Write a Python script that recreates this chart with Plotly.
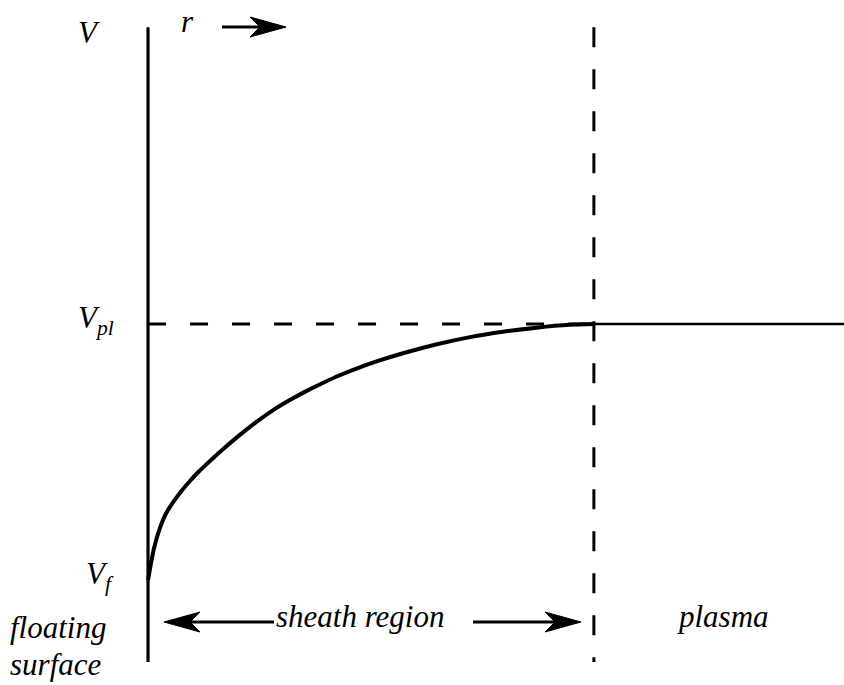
import plotly.graph_objects as go

# ---------------- data (normalised units: r in sheath widths, V from V_f=0 to V_pl=1)
r_sheath = [0.0, 0.0135, 0.027, 0.040, 0.056, 0.075, 0.094, 0.113, 0.132, 0.150,
            0.168, 0.206, 0.244, 0.280, 0.318, 0.357, 0.392, 0.430, 0.469, 0.516,
            0.572, 0.648, 0.722, 0.796, 0.872, 0.946, 1.0]
V_sheath = [0.0, 0.125, 0.205, 0.259, 0.303, 0.348, 0.387, 0.422, 0.454, 0.483,
            0.511, 0.567, 0.619, 0.663, 0.703, 0.740, 0.770, 0.800, 0.827, 0.856,
            0.886, 0.921, 0.949, 0.970, 0.986, 0.997, 1.0]
r_plasma = [1.0, 1.561]
V_plasma = [1.0, 1.0]
tick_vals = [0.0, 1.0]
tick_text = ["V<sub>f</sub>", "V<sub>pl</sub>"]
sheath_edge = 1.0

# ---------------- layout constants
W, H = 844, 685
X_RANGE = [-0.332, 1.561]
Y_RANGE = [-0.41, 2.266]
AXIS_TOP, AXIS_BOTTOM = 2.160, -0.320
FONT = "Liberation Serif"
FS = 31
BLACK = "#000000"


def px(x, y):
    return x / W, 1 - y / H


fig = go.Figure()

# surface (vertical axis)
fig.add_trace(go.Scatter(x=[0, 0], y=[AXIS_BOTTOM, AXIS_TOP], mode="lines",
                         line=dict(color=BLACK, width=3.2), hoverinfo="skip"))
# sheath edge (dashed vertical)
fig.add_trace(go.Scatter(x=[sheath_edge, sheath_edge], y=[AXIS_TOP, AXIS_BOTTOM],
                         mode="lines",
                         line=dict(color=BLACK, width=3, dash="20px,22px"),
                         hoverinfo="skip"))
# V_pl level (dashed horizontal)
fig.add_trace(go.Scatter(x=[0, sheath_edge], y=[tick_vals[1], tick_vals[1]],
                         mode="lines",
                         line=dict(color=BLACK, width=3, dash="18px,24px"),
                         hoverinfo="skip"))
# potential in sheath
fig.add_trace(go.Scatter(x=r_sheath, y=V_sheath, mode="lines",
                         line=dict(color=BLACK, width=4, shape="spline", smoothing=0.7),
                         hoverinfo="skip"))
# potential in plasma
fig.add_trace(go.Scatter(x=r_plasma, y=V_plasma, mode="lines",
                         line=dict(color=BLACK, width=2.6), hoverinfo="skip"))

annotations = []


def label(text, x, y, xanchor="center", size=FS):
    xp, yp = px(x, y)
    annotations.append(dict(text=text, x=xp, y=yp, xref="paper", yref="paper",
                            xanchor=xanchor, yanchor="middle", showarrow=False,
                            font=dict(family=FONT, size=size, color=BLACK, style="italic")))


label("V", 89, 33)
label("r", 187, 21)
label("floating", 8, 627, xanchor="left")
label("surface", 8, 664, xanchor="left")
label("sheath region", 360, 616)
label("plasma", 723, 616)

# tick-like labels for V_f and V_pl, placed at their data values
for v, t in zip(tick_vals, tick_text):
    annotations.append(dict(text=t, x=0, y=v, xref="x", yref="y",
                            xanchor="right", yanchor="middle", xshift=-32,
                            yshift=4, showarrow=False,
                            font=dict(family=FONT, size=FS, color=BLACK, style="italic")))

shapes = []


def shaft(x0, x1, y):
    a = px(x0, y)
    b = px(x1, y)
    shapes.append(dict(type="line", xref="paper", yref="paper",
                       x0=a[0], y0=a[1], x1=b[0], y1=b[1],
                       line=dict(color=BLACK, width=3)))


def head(x, y, direction):
    xp, yp = px(x, y)
    s = 1 if direction == "right" else -1
    path = f"M0,0 L{-36*s},10 L{-26*s},0 L{-36*s},-10 Z"
    shapes.append(dict(type="path", xref="paper", yref="paper",
                       xsizemode="pixel", ysizemode="pixel",
                       xanchor=xp, yanchor=yp, path=path,
                       fillcolor=BLACK, line=dict(color=BLACK, width=1)))


# r arrow
shaft(222, 262, 27)
head(286, 27, "right")
# sheath region arrows
shaft(190, 274, 622)
head(164, 622, "left")
shaft(473, 556, 622)
head(581, 622, "right")

fig.update_layout(
    width=W, height=H,
    margin=dict(l=0, r=0, t=0, b=0),
    paper_bgcolor="white", plot_bgcolor="white",
    showlegend=False,
    xaxis=dict(range=X_RANGE, visible=False, fixedrange=True),
    yaxis=dict(range=Y_RANGE, visible=False, fixedrange=True),
    annotations=annotations,
    shapes=shapes,
)

fig.write_html(
    "out.html",
    config={"displayModeBar": False, "staticPlot": True},
    post_script="document.body.style.margin='0px';document.body.style.overflow='hidden';",
)
